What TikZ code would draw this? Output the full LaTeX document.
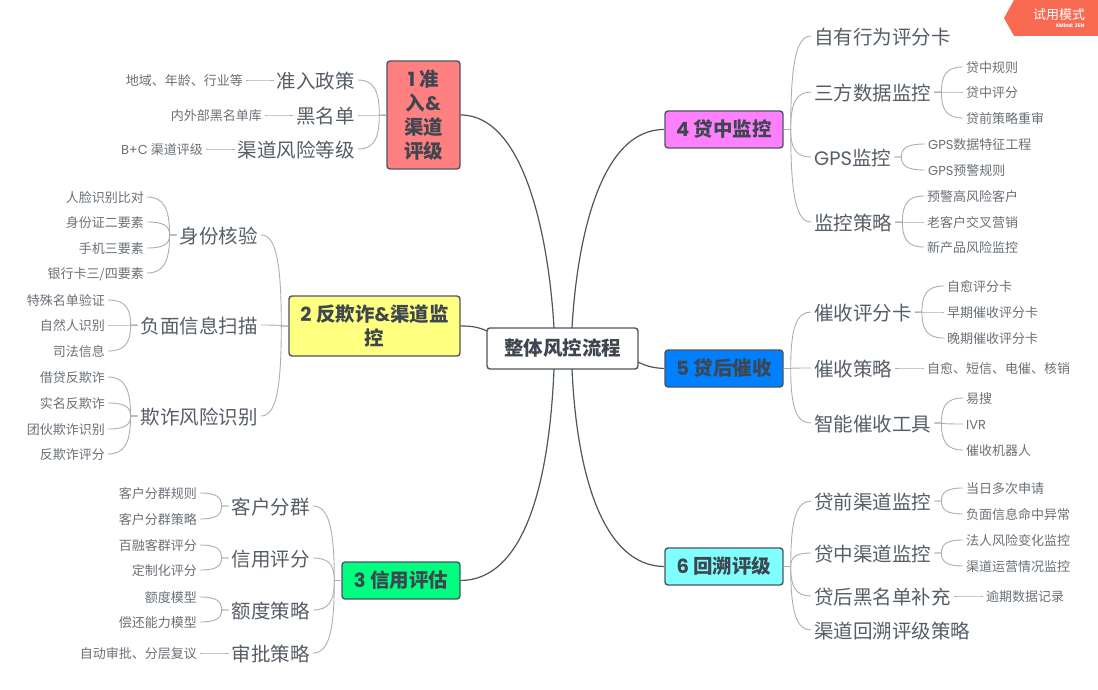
\documentclass[tikz,border=0pt]{standalone}
\usepackage{fontspec}
\setmainfont{Noto Sans CJK SC}
\newfontfamily\latinfont{Poppins}
\usetikzlibrary{calc}
\definecolor{inkdark}{HTML}{3E4650}
\definecolor{inksub}{HTML}{565D66}
\definecolor{inkleaf}{HTML}{6A7077}
\definecolor{edgedark}{HTML}{4C5560}
\definecolor{edgelight}{HTML}{ABAFB3}
\definecolor{badge}{HTML}{F96A52}
\tikzset{
    mainbox/.style={draw=edgedark,line width=1.4pt,rounded corners=3pt,fill=white,text=inkdark,
        font=\fontsize{19.5}{24}\selectfont\bfseries,align=center,inner sep=0pt},
    topicbox/.style={mainbox,minimum height=37pt},
    subnode/.style={text=inksub,font=\fontsize{19.5}{24}\selectfont,inner xsep=3pt,inner ysep=0pt,
        text height=18pt,text depth=1.4pt},
    leaf/.style={text=inkleaf,font=\fontsize{13}{16}\selectfont,inner xsep=3pt,inner ysep=0pt,
        text height=12.4pt,text depth=.6pt},
    trunk/.style={edgedark,line width=1.2pt},
    twig/.style={edgelight,line width=.9pt}
}
% children to the right of a parent, children to the left of it
\newcommand{\fanR}[2]{
    \foreach \kid in {#2}
        \draw[twig] let \p1=(#1.east), \p2=(\kid.west) in
            (\p1) -- (\x1+7pt,\y1) .. controls (\x1+7pt,{\y1+.72*(\y2-\y1)}) and ({\x1+7pt+.28*(\x2-\x1-7pt)},\y2) .. (\p2);
}
\newcommand{\fanL}[2]{
    \foreach \kid in {#2}
        \draw[twig] let \p1=(#1.west), \p2=(\kid.east) in
            (\p1) -- (\x1-7pt,\y1) .. controls (\x1-7pt,{\y1+.72*(\y2-\y1)}) and ({\x1-7pt+.28*(\x2-\x1+7pt)},\y2) .. (\p2);
}
\begin{document}
\begin{tikzpicture}[x=1pt,y=-1pt]
    \useasboundingbox (0,0) rectangle (1098,690);

    % centre and main topics
    \node[mainbox,minimum width=151pt,minimum height=41pt] (main) at (562.5,348.5) {整体风控流程};
    \node[topicbox,fill={rgb,255:red,255;green,128;blue,128},minimum width=73pt,minimum height=108pt] (t1) at (423.5,115) {{\latinfont 1} 准\\入{\latinfont\&}\\渠道\\评级};
    \node[topicbox,fill={rgb,255:red,255;green,255;blue,128},minimum width=171pt,minimum height=60pt] (t2) at (374.5,326) {{\latinfont 2} 反欺诈{\latinfont\&}渠道监\\控};
    \node[topicbox,fill={rgb,255:red,0;green,255;blue,128},minimum width=118pt] (t3) at (401,580.5) {{\latinfont 3} 信用评估};
    \node[topicbox,fill={rgb,255:red,255;green,128;blue,255},minimum width=118pt] (t4) at (724,129.5) {{\latinfont 4} 贷中监控};
    \node[topicbox,fill={rgb,255:red,0;green,128;blue,255},minimum width=118pt] (t5) at (724,368.5) {{\latinfont 5} 贷后催收};
    \node[topicbox,fill={rgb,255:red,128;green,255;blue,255},minimum width=118pt] (t6) at (724,566.5) {{\latinfont 6} 回溯评级};

    \coordinate (upL) at (554,328);
    \coordinate (upR) at (572,328);
    \coordinate (dnL) at (554,369);
    \coordinate (dnR) at (572,369);
    \coordinate (midL) at (487,331);
    \coordinate (midR) at (638,362);

    % topic 1
    \node[subnode,anchor=east] (s11) at (358,80) {准入政策};
    \node[subnode,anchor=east] (s12) at (358,115) {黑名单};
    \node[subnode,anchor=east] (s13) at (358,149) {渠道风险等级};
    \node[leaf,anchor=east] (l111) at (246,80) {地域、年龄、行业等};
    \node[leaf,anchor=east] (l121) at (265,115) {内外部黑名单库};
    \node[leaf,anchor=east] (l131) at (206,149) {{\latinfont B+C} 渠道评级};

    % topic 2
    \node[subnode,anchor=east] (s21) at (261,235) {身份核验};
    \node[subnode,anchor=east] (s22) at (261,325) {负面信息扫描};
    \node[subnode,anchor=east] (s23) at (261,416) {欺诈风险识别};
    \node[leaf,anchor=east] (l211) at (147,197) {人脸识别比对};
    \node[leaf,anchor=east] (l212) at (147,222) {身份证二要素};
    \node[leaf,anchor=east] (l213) at (147,248) {手机三要素};
    \node[leaf,anchor=east] (l214) at (147,273) {银行卡三/四要素};
    \node[leaf,anchor=east] (l221) at (108,300) {特殊名单验证};
    \node[leaf,anchor=east] (l222) at (108,325) {自然人识别};
    \node[leaf,anchor=east] (l223) at (108,351) {司法信息};
    \node[leaf,anchor=east] (l231) at (108,377) {借贷反欺诈};
    \node[leaf,anchor=east] (l232) at (108,403) {实名反欺诈};
    \node[leaf,anchor=east] (l233) at (108,429) {团伙欺诈识别};
    \node[leaf,anchor=east] (l234) at (108,454) {反欺诈评分};

    % topic 3
    \node[subnode,anchor=east] (s31) at (313,506) {客户分群};
    \node[subnode,anchor=east] (s32) at (313,558) {信用评分};
    \node[subnode,anchor=east] (s33) at (313,610) {额度策略};
    \node[subnode,anchor=east] (s34) at (313,653) {审批策略};
    \node[leaf,anchor=east] (l311) at (200,493) {客户分群规则};
    \node[leaf,anchor=east] (l312) at (200,519) {客户分群策略};
    \node[leaf,anchor=east] (l321) at (200,545) {百融客群评分};
    \node[leaf,anchor=east] (l322) at (200,570) {定制化评分};
    \node[leaf,anchor=east] (l331) at (200,597) {额度模型};
    \node[leaf,anchor=east] (l332) at (200,622) {偿还能力模型};
    \node[leaf,anchor=east] (l341) at (200,653) {自动审批、分层复议};

    % topic 4
    \node[subnode,anchor=west] (s41) at (811,36) {自有行为评分卡};
    \node[subnode,anchor=west] (s42) at (811,92) {三方数据监控};
    \node[subnode,anchor=west] (s43) at (811,157) {{\latinfont GPS}监控};
    \node[subnode,anchor=west] (s44) at (811,222) {监控策略};
    \node[leaf,anchor=west] (l421) at (963,67) {贷中规则};
    \node[leaf,anchor=west] (l422) at (963,92) {贷中评分};
    \node[leaf,anchor=west] (l423) at (963,118) {贷前策略重审};
    \node[leaf,anchor=west] (l431) at (925,144) {{\latinfont GPS}数据特征工程};
    \node[leaf,anchor=west] (l432) at (925,170) {{\latinfont GPS}预警规则};
    \node[leaf,anchor=west] (l441) at (924,196) {预警高风险客户};
    \node[leaf,anchor=west] (l442) at (924,222) {老客户交叉营销};
    \node[leaf,anchor=west] (l443) at (924,247) {新产品风险监控};

    % topic 5
    \node[subnode,anchor=west] (s51) at (811,312) {催收评分卡};
    \node[subnode,anchor=west] (s52) at (811,368) {催收策略};
    \node[subnode,anchor=west] (s53) at (811,423) {智能催收工具};
    \node[leaf,anchor=west] (l511) at (944,286) {自愈评分卡};
    \node[leaf,anchor=west] (l512) at (944,312) {早期催收评分卡};
    \node[leaf,anchor=west] (l513) at (944,338) {晚期催收评分卡};
    \node[leaf,anchor=west] (l521) at (924,368) {自愈、短信、电催、核销};
    \node[leaf,anchor=west] (l531) at (963,398) {易搜};
    \node[leaf,anchor=west] (l532) at (963,424) {{\latinfont IVR}};
    \node[leaf,anchor=west] (l533) at (963,450) {催收机器人};

    % topic 6
    \node[subnode,anchor=west] (s61) at (811,501) {贷前渠道监控};
    \node[subnode,anchor=west] (s62) at (811,553) {贷中渠道监控};
    \node[subnode,anchor=west] (s63) at (811,596) {贷后黑名单补充};
    \node[subnode,anchor=west] (s64) at (811,630) {渠道回溯评级策略};
    \node[leaf,anchor=west] (l611) at (963,488) {当日多次申请};
    \node[leaf,anchor=west] (l612) at (963,514) {负面信息命中异常};
    \node[leaf,anchor=west] (l621) at (963,540) {法人风险变化监控};
    \node[leaf,anchor=west] (l622) at (963,566) {渠道运营情况监控};
    \node[leaf,anchor=west] (l631) at (983,596) {逾期数据记录};

    % trunks
    \draw[trunk] (t1.east) .. controls (525,115) and (549,240) .. (upL);
    \draw[trunk] (t2.east) .. controls (472,326) and (478,327) .. (midL);
    \draw[trunk] (t3.east) .. controls (522,580) and (549,490) .. (dnL);
    \draw[trunk] (t4.west) .. controls (600,129) and (577,240) .. (upR);
    \draw[trunk] (t5.west) .. controls (653,368) and (646,366) .. (midR);
    \draw[trunk] (t6.west) .. controls (605,566) and (577,480) .. (dnR);

    % branches
    \fanL{t1}{s11,s12,s13}
    \fanL{t2}{s21,s22,s23}
    \fanL{t3}{s31,s32,s33,s34}
    \fanR{t4}{s41,s42,s43,s44}
    \fanR{t5}{s51,s52,s53}
    \fanR{t6}{s61,s62,s63,s64}

    \fanL{s11}{l111}
    \fanL{s12}{l121}
    \fanL{s13}{l131}
    \fanL{s21}{l211,l212,l213,l214}
    \fanL{s22}{l221,l222,l223}
    \fanL{s23}{l231,l232,l233,l234}
    \fanL{s31}{l311,l312}
    \fanL{s32}{l321,l322}
    \fanL{s33}{l331,l332}
    \fanL{s34}{l341}
    \fanR{s42}{l421,l422,l423}
    \fanR{s43}{l431,l432}
    \fanR{s44}{l441,l442,l443}
    \fanR{s51}{l511,l512,l513}
    \fanR{s52}{l521}
    \fanR{s53}{l531,l532,l533}
    \fanR{s61}{l611,l612}
    \fanR{s62}{l621,l622}
    \fanR{s63}{l631}

    % trial badge
    \fill[badge] (1004,18) -- (1014,0) -- (1098,0) -- (1098,36) -- (1014,36) -- cycle;
    \node[text=white,font=\fontsize{13}{15}\selectfont,inner sep=0pt] (badgetext) at (1059,15) {试用模式};
    \node[text=white,font=\fontsize{5}{6}\latinfont\bfseries\selectfont,inner sep=0pt] (badgebrand) at (1070,26) {XMind: ZEN};
\end{tikzpicture}
\end{document}
